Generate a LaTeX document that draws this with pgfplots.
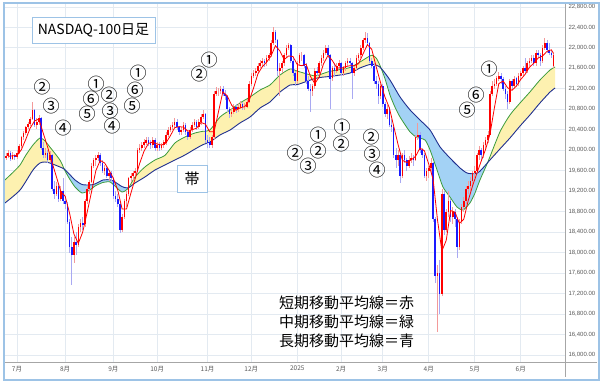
\documentclass[border=0pt]{standalone}
\usepackage{fontspec}
\setmainfont{Noto Sans CJK JP}
\newfontfamily\tickfont{Liberation Sans}
\usepackage{pgfplots}
\pgfplotsset{compat=1.18}
\usepackage{pgfplotstable}
\usepgfplotslibrary{fillbetween}
\definecolor{gridc}{HTML}{E3EAF1}
\definecolor{framec}{HTML}{9DC3E6}
\definecolor{axisgray}{HTML}{A6A6A6}
\definecolor{ticktext}{HTML}{595959}
\definecolor{yelfill}{HTML}{FDF1B0}
\definecolor{blufill}{HTML}{A3D2F5}
\definecolor{magreen}{HTML}{3B9B3B}
\definecolor{manavy}{HTML}{1F2F8F}
\definecolor{candleblue}{HTML}{1A1AFF}
\definecolor{wickred}{HTML}{F39A9A}
\definecolor{wickblue}{HTML}{A9A9F2}

\pgfplotstableread{
d o h l c
-5 19850 19950 19800 19880
-4 19880 20000 19850 19950
-3 19950 19990 19780 19820
-2 19820 19960 19800 19900
-1 19900 19930 19810 19860
0 19860 20000 19830 19950
1 19950 20120 19920 20080
2 20080 20280 20050 20250
3 20250 20380 20200 20330
4 20330 20480 20300 20450
5 20450 20560 20420 20520
6 20520 20640 20480 20600
7 20600 20940 20580 20780
8 20780 20800 20460 20500
9 20500 20620 20420 20560
10 20560 20680 20500 20620
11 20620 20640 20000 20050
12 20050 20150 19850 19900
13 19900 20050 19850 19950
14 19950 20000 19750 19800
15 19800 19980 19760 19900
16 19900 19920 19200 19250
17 19250 19400 19050 19150
18 19150 19380 19100 19300
19 19300 19350 18980 19050
20 19050 19300 19000 19200
21 19200 19450 18950 19000
22 19000 19100 18850 18950
23 18950 18980 18550 18600
24 18600 18650 18000 18100
25 18100 18300 17370 17950
26 17950 18300 17800 18200
27 18200 18400 17950 18150
28 18150 18550 18100 18500
29 18500 18650 18400 18580
30 18580 18700 18450 18550
31 18550 19050 18500 19000
32 19000 19300 18950 19250
33 19250 19420 19150 19380
34 19380 19750 19350 19700
35 19700 19850 19650 19800
36 19800 19900 19700 19850
37 19850 19960 19780 19900
38 19900 19950 19700 19750
39 19750 19800 19550 19600
40 19600 19720 19520 19650
41 19650 19700 19450 19500
42 19500 19620 19400 19550
43 19550 19600 19400 19450
44 19450 19480 19050 19100
45 19100 19200 18980 19050
46 19050 19150 18900 18950
47 18950 19000 18380 18450
48 18450 18750 18400 18700
49 18700 19050 18650 19000
50 19000 19200 18900 19150
51 19150 19480 19100 19450
52 19450 19560 19380 19500
53 19500 19600 19420 19550
54 19550 19650 19480 19600
55 19600 20050 19580 20000
56 20000 20120 19950 20050
57 20050 20150 19980 20100
58 20100 20220 20050 20150
59 20150 20260 20100 20200
60 20200 20250 20080 20150
61 20150 20200 20020 20100
62 20100 20250 20050 20200
63 20200 20230 19980 20050
64 20050 20150 19980 20100
65 20100 20150 19980 20050
66 20050 20150 20000 20100
67 20100 20200 20050 20150
68 20150 20350 20100 20300
69 20300 20450 20250 20400
70 20400 20500 20350 20450
71 20450 20560 20400 20500
72 20500 20630 20450 20550
73 20550 20600 20400 20450
74 20450 20480 20300 20350
75 20350 20450 20300 20400
76 20400 20550 20350 20500
77 20500 20530 20300 20350
78 20350 20400 20200 20250
79 20250 20450 20220 20400
80 20400 20550 20350 20500
81 20500 20600 20450 20550
82 20550 20580 20400 20450
83 20450 20600 20420 20550
84 20550 20700 20500 20650
85 20650 20790 20600 20700
86 20700 20720 20150 20200
87 20200 20300 20050 20150
88 20150 20250 20040 20100
89 20100 20300 20050 20250
90 20250 21150 20200 21100
91 21100 21230 21050 21150
92 21150 21220 21050 21150
93 21150 21260 21100 21200
94 21200 21250 21050 21100
95 21100 21180 20980 21050
96 21050 21080 20750 20800
97 20800 20850 20620 20700
98 20700 20820 20650 20750
99 20750 20900 20700 20850
100 20850 20900 20720 20800
101 20800 20920 20750 20850
102 20850 20960 20800 20900
103 20900 20950 20780 20850
104 20850 20930 20780 20850
105 20850 21000 20820 20950
106 20950 21350 20920 21300
107 21300 21500 21250 21450
108 21450 21560 21400 21500
109 21500 21600 21450 21550
110 21550 21700 21500 21650
111 21650 21760 21600 21700
112 21700 21800 21650 21750
113 21750 21780 21620 21700
114 21700 21850 21650 21800
115 21800 21900 21750 21850
116 21850 22150 21820 22100
117 22100 22400 22050 22300
118 22300 22350 22100 22150
119 22150 22180 21450 21550
120 21550 21700 21050 21600
121 21600 21750 21500 21700
122 21700 21900 21650 21850
123 21850 22050 21800 22000
124 22000 22100 21950 22050
125 22050 22080 21700 21750
126 21750 21800 21450 21500
127 21500 21550 21250 21350
128 21350 21750 21300 21700
129 21700 21900 21650 21850
130 21850 21920 21750 21850
131 21850 21880 21600 21650
132 21650 21700 21300 21350
133 21350 21450 21150 21200
134 21200 21300 20750 21150
135 21150 21300 21050 21250
136 21250 21600 21200 21550
137 21550 21620 21450 21500
138 21500 21750 21450 21700
139 21700 21850 21650 21800
140 21800 21950 21750 21900
141 21900 22050 21850 22000
142 22000 22050 21800 21850
143 21850 21870 20800 21400
144 21400 21650 21350 21600
145 21600 21700 21450 21550
146 21550 21700 21500 21650
147 21650 21760 21600 21700
148 21700 21720 21450 21500
149 21500 21650 21450 21600
150 21600 21750 21550 21700
151 21700 21800 21650 21750
152 21750 21800 21650 21700
153 21700 21720 21000 21500
154 21500 21650 21450 21600
155 21600 21850 21550 21800
156 21800 21900 21750 21850
157 21850 22050 21800 22000
158 22000 22200 21950 22150
159 22150 22300 22100 22200
160 22200 22280 22050 22100
161 22100 22120 21700 21750
162 21750 21800 21600 21650
163 21650 21700 21300 21350
164 21350 21450 21200 21300
165 21300 21350 20900 21050
166 21050 21300 21000 21250
167 21250 21300 20850 20900
168 20900 20950 20650 20700
169 20700 20880 20600 20800
170 20800 20850 20450 20500
171 20500 20600 20350 20450
172 20450 20500 19850 19900
173 19900 20050 19650 19800
174 19800 20000 19700 19900
175 19900 19950 19360 19500
176 19500 19950 19450 19900
177 19900 20000 19750 19800
178 19800 19850 19600 19700
179 19700 19880 19650 19800
180 19800 19950 19750 19850
181 19850 19900 19700 19800
182 19800 20300 19780 20250
183 20250 20530 20200 20300
184 20300 20350 19950 20000
185 20000 20050 19850 19900
186 19900 19950 19450 19500
187 19500 19650 19400 19600
188 19600 19700 19450 19650
189 19650 19850 19550 19750
190 19750 19760 18600 18650
191 18650 18700 17400 17550
192 17550 17750 16450 17600
193 17600 17850 16800 17200
194 17200 19250 17150 19150
195 19150 19200 18350 18450
196 18450 18850 18400 18800
197 18800 19200 18700 19000
198 19000 19050 18600 18700
199 18700 18900 18550 18800
200 18800 18850 18500 18650
201 18650 18700 17900 18100
202 18100 18650 18050 18600
203 18600 18950 18550 18900
204 18900 19080 18800 19000
205 19000 19300 18950 19250
206 19250 19400 19150 19300
207 19300 19480 19200 19400
208 19400 19600 19300 19550
209 19550 19700 19450 19600
210 19600 19950 19550 19900
211 19900 20080 19800 20000
212 20000 20050 19800 19900
213 19900 20150 19850 20100
214 20100 20250 20000 20200
215 20200 20380 20150 20300
216 20300 21150 20300 21100
217 21100 21350 21050 21250
218 21250 21400 21200 21300
219 21300 21450 21250 21400
220 21400 21520 21350 21450
221 21450 21500 21300 21400
222 21400 21420 21150 21200
223 21200 21250 21000 21100
224 21100 21150 20800 20950
225 20950 21400 20900 21350
226 21350 21400 21200 21250
227 21250 21450 21200 21400
228 21400 21420 21250 21300
229 21300 21500 21250 21450
230 21450 21550 21380 21500
231 21500 21650 21450 21600
232 21600 21800 21500 21550
233 21550 21750 21500 21700
234 21700 21800 21650 21750
235 21750 21850 21700 21800
236 21800 21850 21650 21700
237 21700 21950 21650 21900
238 21900 21950 21800 21850
239 21850 21900 21650 21750
240 21750 22050 21700 22000
241 22000 22200 21950 22100
242 22100 22150 21900 21950
243 21950 22100 21850 21900
244 21900 21950 21800 21850
245 21650 21900 21600 21850
}\candles

\pgfplotstableread{
d v
-5.5 19418
-2 19560
1.4 19711
4 19900
7.3 20101
10.5 20238
12.8 20180
15 20062
19.6 19808
21.9 19600
24 19440
26.5 19281
29.7 19164
33.3 19222
35.6 19300
39.3 19370
42.5 19380
44.7 19300
47.9 19184
50.7 19250
53.9 19476
58.4 19672
63 19808
67.6 19900
72.1 20140
76.7 20258
81.3 20336
85 20370
88.1 20394
92.7 20648
97.3 20785
101.8 20922
106.4 21039
111 21175
115.5 21273
120.1 21468
124.7 21586
127.9 21545
131.5 21500
136.1 21450
139.3 21490
142.9 21540
147.5 21575
152.1 21615
156.6 21722
160.3 21820
162.1 21855
164 21800
165.8 21650
168 21400
170.3 21078
172.5 20850
174.9 20648
179.5 20355
182.6 20250
186.3 20199
188.6 20004
191.8 19613
194.5 19281
197.7 19086
200.9 18890
203.7 18832
206.8 18968
209 19150
211.4 19418
215 19769
220.5 20355
225.1 20688
229.7 20922
234.2 21136
238.8 21371
243.4 21566
245.7 21625
}\greenma

\pgfplotstableread{
d v
-5.5 18969
1.4 19222
7.3 19613
10.5 19750
12.8 19769
15 19750
19.6 19672
21.9 19620
26.5 19418
29.7 19330
33.3 19320
35.6 19340
39.3 19418
42.5 19420
44.7 19380
47.9 19290
50.7 19262
53.9 19359
58.4 19476
63 19613
67.6 19711
72.1 19808
76.7 19906
81.3 20023
85 20110
88.1 20160
92.7 20297
97.3 20394
101.8 20531
106.4 20648
111 20824
115.5 20941
120.1 21136
124.7 21273
127.9 21280
131.5 21332
136.1 21400
139.3 21425
142.9 21440
147.5 21468
152.1 21507
156.6 21605
160.3 21664
162.1 21683
165.8 21620
170.3 21371
174.9 21039
179.5 20785
184 20590
188.6 20394
193.2 20062
197.7 19847
202.3 19652
205.5 19554
209.1 19540
211.4 19590
216 19810
220.5 20023
225.1 20238
229.7 20472
234.2 20687
238.8 20922
243.4 21136
245.7 21214
}\navyma

\pgfplotstableread{
d v
-4 19880
-2 19890
0 19896
2 20010
4 20210
6 20430
8 20570
10 20610
12 20330
14 20060
16 19760
18 19480
20 19190
22 19100
24 18770
26 18360
28 18180
30 18400
32 18780
34 19180
36 19600
38 19800
40 19750
42 19610
44 19450
46 19220
48 18850
50 18850
52 19160
54 19450
56 19740
58 19980
60 20130
62 20160
64 20120
66 20100
68 20140
70 20280
72 20440
74 20460
76 20450
78 20370
80 20400
82 20430
84 20540
86 20510
88 20360
90 20360
92 20750
94 21140
96 21060
98 20880
100 20780
102 20830
104 20850
106 20970
108 21210
110 21490
112 21630
114 21720
116 21840
118 22040
120 21940
122 21770
124 21840
126 21830
128 21670
130 21650
132 21680
134 21440
136 21300
138 21430
140 21690
142 21850
144 21750
146 21610
148 21600
150 21630
152 21650
154 21650
156 21690
158 21880
160 22060
162 21970
164 21630
166 21320
168 21040
170 20830
172 20470
174 20110
176 19800
178 19760
180 19810
182 19880
184 20040
186 19990
188 19730
190 19430
192 18640
194 18030
196 18240
198 18820
200 18790
202 18570
204 18650
206 19010
208 19300
210 19550
212 19790
214 20020
216 20320
218 20830
220 21300
222 21350
224 21220
226 21170
228 21250
230 21380
232 21480
234 21620
236 21700
238 21800
240 21840
242 21930
244 21960
245 21890
}\redma

\pgfplotsset{candle/.style={draw=none, mark=none, forget plot,
  error bars/y dir=both, error bars/y explicit, error bars/error mark=none}}

\begin{document}
\begin{tikzpicture}
\begin{axis}[
  at={(0pt,0pt)}, anchor=south west,
  scale only axis, width=560pt, height=358pt,
  xmin=-5.48, xmax=250.23, ymin=15863, ymax=22855,
  axis line style={draw=none}, tick style={draw=none}, major tick length=0pt,
  xtick={0,22,44,64,87,107,128,148,167,188,209,230},
  xticklabels={7月,8月,9月,10月,11月,12月,2025,2月,3月,4月,5月,6月},
  x tick label style={font=\fontsize{6.5}{6.5}\selectfont, text=ticktext, yshift=-0.5pt},
  ytick={16000,16400,...,22800},
  scaled y ticks=false,
  yticklabel pos=right,
  y tick label style={font=\tickfont\fontsize{6}{6}\selectfont, text=ticktext, anchor=west, xshift=0pt,
    /pgf/number format/fixed, /pgf/number format/fixed zerofill,
    /pgf/number format/precision=2, /pgf/number format/1000 sep={,},
    /pgf/number format/assume math mode=true},
  grid=major, grid style={gridc, line width=0.6pt},
]
\addplot[draw=none, name path=G, smooth, tension=0.4, forget plot] table[x=d, y=v] {\greenma};
\addplot[draw=none, name path=N, smooth, tension=0.4, forget plot] table[x=d, y=v] {\navyma};
\addplot[yelfill, draw=none] fill between[of=G and N, split,
   every odd segment/.style={fill=blufill}, every even segment/.style={fill=yelfill}];
\addplot[magreen, line width=0.8pt, smooth, tension=0.4] table[x=d, y=v] {\greenma};
\addplot[manavy, line width=0.9pt, smooth, tension=0.4] table[x=d, y=v] {\navyma};
% wicks
\addplot[candle, restrict expr to domain={\thisrow{c}-\thisrow{o}}{0:100000},
  error bars/error bar style={line width=0.7pt, draw=wickred, solid}]
  table[x=d, y expr={(\thisrow{h}+\thisrow{l})/2}, y error expr={(\thisrow{h}-\thisrow{l})/2}] {\candles};
\addplot[candle, restrict expr to domain={\thisrow{o}-\thisrow{c}}{1:100000},
  error bars/error bar style={line width=0.7pt, draw=wickblue, solid}]
  table[x=d, y expr={(\thisrow{h}+\thisrow{l})/2}, y error expr={(\thisrow{h}-\thisrow{l})/2}] {\candles};
% bodies
\addplot[candle, restrict expr to domain={\thisrow{c}-\thisrow{o}}{0:100000},
  error bars/error bar style={line width=1.6pt, draw=red, solid}]
  table[x=d, y expr={(\thisrow{o}+\thisrow{c})/2}, y error expr={(\thisrow{c}-\thisrow{o})/2}] {\candles};
\addplot[candle, restrict expr to domain={\thisrow{o}-\thisrow{c}}{1:100000},
  error bars/error bar style={line width=1.6pt, draw=candleblue, solid}]
  table[x=d, y expr={(\thisrow{o}+\thisrow{c})/2}, y error expr={(\thisrow{o}-\thisrow{c})/2}] {\candles};
\addplot[red, line width=0.8pt, mark=none] table[x=d, y=v] {\redma};
\end{axis}
\begin{scope}[shift={(-5pt,362pt)}, x=1pt, y=-1pt]
  \draw[framec, line width=1.2pt] (4,3) rectangle (599,380);
  \draw[axisgray, line width=0.8pt] (5,362) -- (597,362);
  \draw[axisgray, line width=0.8pt] (565,4) -- (565,377);
  \draw[framec, line width=0.8pt, fill=white] (32,17) rectangle (155,43);
  \node at (93.5,30) {\fontsize{14}{14}\selectfont NASDAQ-100日足};
  \draw[framec, line width=0.8pt, fill=white] (177,165) rectangle (207,192);
  \node at (192,178.5) {\fontsize{15}{15}\selectfont 帯};
  \begin{scope}[every node/.style={font=\fontsize{17}{17}\selectfont, inner sep=0pt}]
    \node at (42,87) {②};
    \node at (51,106) {③};
    \node at (63,128) {④};
    \node at (96,84) {①};
    \node at (91,99) {⑥};
    \node at (87,114) {⑤};
    \node at (109,95) {②};
    \node at (110,111) {③};
    \node at (112,126) {④};
    \node at (138,73) {①};
    \node at (135,90) {⑥};
    \node at (132,106) {⑤};
    \node at (209,60) {①};
    \node at (199,74) {②};
    \node at (295,153) {②};
    \node at (318,135) {①};
    \node at (318,151) {②};
    \node at (308,166) {③};
    \node at (342,127) {①};
    \node at (341,144) {②};
    \node at (371,137) {②};
    \node at (372,154) {③};
    \node at (377,170) {④};
    \node at (489,69) {①};
    \node at (476,95) {⑥};
    \node at (467,110) {⑤};
  \end{scope}
  \begin{scope}[every node/.style={font=\fontsize{15}{15}\selectfont, anchor=west, inner sep=0pt}]
    \node at (279,303) {短期移動平均線＝赤};
    \node at (279,322) {中期移動平均線＝緑};
    \node at (279,341) {長期移動平均線＝青};
  \end{scope}
\end{scope}
\pgfresetboundingbox
\useasboundingbox (-5pt,-20pt) rectangle (596pt,362pt);
\end{tikzpicture}
\end{document}
